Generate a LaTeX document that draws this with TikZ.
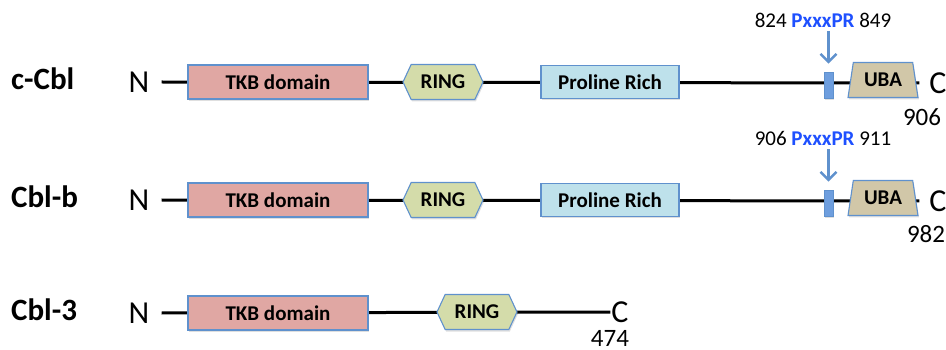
\documentclass[tikz,border=0pt]{standalone}
\usepackage{fontspec}
\setmainfont{Carlito}
\usetikzlibrary{shapes.geometric,shapes.symbols,shadows,arrows.meta}

\definecolor{tkbred}{RGB}{224,167,163}
\definecolor{ringgreen}{RGB}{212,220,170}
\definecolor{prolblue}{RGB}{190,225,235}
\definecolor{ubatan}{RGB}{209,199,168}
\definecolor{edgeblue}{RGB}{95,145,205}
\definecolor{motblue}{RGB}{110,158,222}
\definecolor{pxblue}{RGB}{30,80,255}

\tikzset{
  protdomain/.style={draw=edgeblue, line width=1.1pt, font=\fontsize{21}{24}\selectfont\bfseries,
    drop shadow={shadow xshift=1pt, shadow yshift=-2pt, opacity=0.25}},
  tkb/.style={protdomain, rectangle, fill=tkbred, minimum width=180pt, minimum height=34pt},
  ring/.style={protdomain, signal, signal to=west and east, signal pointer angle=130,
    fill=ringgreen, minimum width=80pt, minimum height=35pt, inner xsep=2pt},
  proline/.style={protdomain, rectangle, fill=prolblue, minimum width=138pt, minimum height=33pt},
  uba/.style={protdomain, trapezium, trapezium stretches=true, trapezium left angle=79,
    trapezium right angle=79, fill=ubatan, minimum width=70pt, minimum height=35pt},
  motif/.style={draw=edgeblue, line width=0.8pt, fill=motblue, minimum width=9pt,
    minimum height=26pt, inner sep=0pt,
    drop shadow={shadow xshift=1pt, shadow yshift=-2pt, opacity=0.25}},
  term/.style={font=\fontsize{32}{36}\selectfont, inner sep=0pt},
  protname/.style={font=\fontsize{31}{36}\selectfont\bfseries, anchor=west, inner sep=0pt},
  resnum/.style={font=\fontsize{25}{30}\selectfont, inner sep=0pt},
  sitelabel/.style={font=\fontsize{21}{24}\selectfont, inner sep=1pt},
  backbone/.style={line width=3pt},
  arr/.style={edgeblue, line width=2.4pt, -{Straight Barb[length=8pt,width=16pt,line width=2.4pt]}}
}

\begin{document}
\begin{tikzpicture}[x=1pt,y=-1pt]
\useasboundingbox (0,0) rectangle (946,350);

% backbone, termini, length and TKB domain for every protein
\foreach \r/\name/\y/\cx/\cy/\gap/\lx/\ly/\len in
  {1/c-Cbl/82/938/83/10/922/117/906, 2/Cbl-b/200/938/201/10/926/234/982, 3/Cbl-3/313/620/312/1/610/338/474} {
  \node[protname] (name\r) at (11,\y-3) {\name};
  \node[term] (N\r) at (139,\y) {N};
  \node[term] (C\r) at (\cx,\cy) {C};
  \draw[backbone] ([xshift=12pt]N\r.east) -- ([xshift=-\gap pt]C\r.west);
  \node[resnum] (len\r) at (\lx,\ly) {\len};
  \node[tkb] (tkb\r) at (278,\y) {TKB domain};
}

% RING, proline rich region, PxxxPR site and UBA of c-Cbl and Cbl-b
\foreach \r/\y/\from/\to in {1/82/824/849, 2/200/906/911} {
  \node[ring] (ring\r) at (443,\y) {RING};
  \node[proline] (prol\r) at (610,\y) {Proline Rich};
  \node[motif] (mot\r) at (828.5,\y+3) {};
  \node[uba] (uba\r) at (883,\y-2) {UBA};
  \node[sitelabel] (site\r) at (823,\y-62) {\from\ \textcolor{pxblue}{\bfseries PxxxPR} \to};
  \draw[arr, shorten <=3pt, shorten >=8pt] (site\r.south -| mot\r.north) -- (mot\r.north);
}

% Cbl-3 only has the RING after the TKB domain
\node[ring] (ring3) at (477,312) {RING};

\end{tikzpicture}
\end{document}
